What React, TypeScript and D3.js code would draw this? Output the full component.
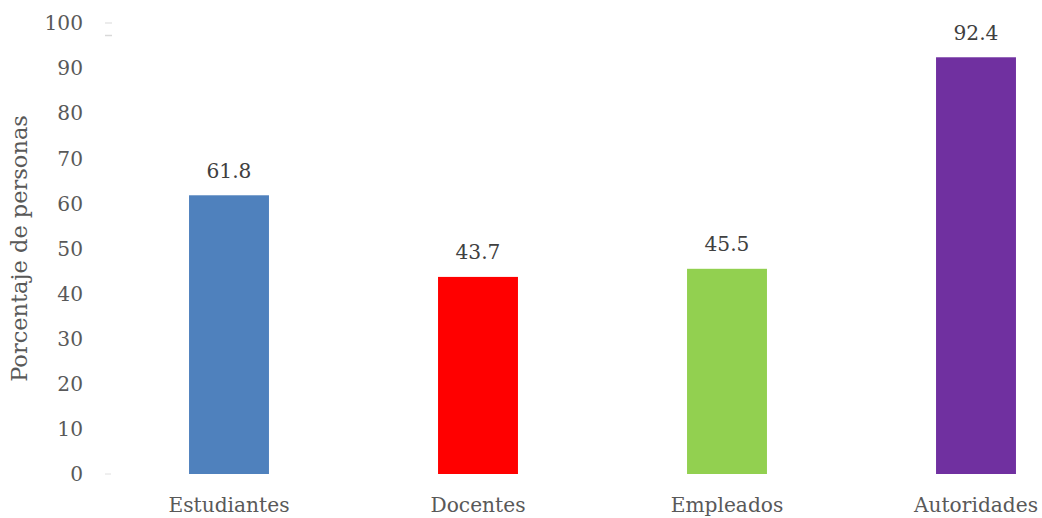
import React from "react";
import * as d3 from "d3";

const categories = ["Estudiantes", "Docentes", "Empleados", "Autoridades"];
const values = [61.8, 43.7, 45.5, 92.4];
const colors = ["#4F81BD", "#FF0000", "#92D050", "#7030A0"];
const yTicks = [0, 10, 20, 30, 40, 50, 60, 70, 80, 90, 100];
const yTitle = "Porcentaje de personas";

export default function App() {
  const W = 1042, H = 518;
  const x = d3.scaleBand<string>().domain(categories).range([104.5, 1100.5]).paddingInner(0.679).paddingOuter(0.3395);
  const y = d3.scaleLinear().domain([0, 100]).range([474, 23]);
  const font = "'DejaVu Serif', serif";
  const fs = 20.2;
  return (
    <svg width={W} height={H} style={{ position: "absolute", left: 0, top: 0, background: "#fff" }}>
      {yTicks.map((t) => (
        <text key={t} x={83} y={y(t)} dy="0.36em" textAnchor="end" fontFamily={font} fontSize={fs} fill="#595959">{t}</text>
      ))}
      <line x1={105} x2={112} y1={y(100)} y2={y(100)} stroke="#d9d9d9" strokeWidth={1} />
      <line x1={105} x2={112} y1={y(100) + 12.5} y2={y(100) + 12.5} stroke="#d9d9d9" strokeWidth={1.5} />
      <line x1={105} x2={111} y1={y(0)} y2={y(0)} stroke="#e0e0e0" strokeWidth={1} />
      <text transform={`translate(27,${(y(0) + y(100)) / 2}) rotate(-90)`} textAnchor="middle" fontFamily={font} fontSize={22.5} fill="#595959">{yTitle}</text>
      {categories.map((c, i) => (
        <g key={c}>
          <rect x={x(c)} y={y(values[i])} width={x.bandwidth()} height={y(0) - y(values[i])} fill={colors[i]} />
          <text x={x(c)! + x.bandwidth() / 2} y={y(values[i]) - 25} dy="0.36em" textAnchor="middle" fontFamily={font} fontSize={fs} fill="#404040">{values[i].toFixed(1)}</text>
          <text x={x(c)! + x.bandwidth() / 2} y={505} dy="0.36em" textAnchor="middle" fontFamily={font} fontSize={fs} fill="#595959">{c}</text>
        </g>
      ))}
    </svg>
  );
}
